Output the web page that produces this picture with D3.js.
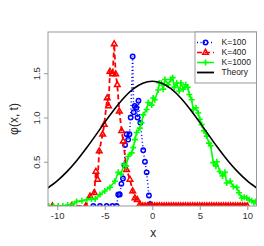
<!DOCTYPE html>
<html><head><meta charset="utf-8">
<script src="https://cdn.jsdelivr.net/npm/d3@7"></script>
<style>body{margin:0;background:#fff}svg{display:block}text{font-family:"Liberation Sans",Arial,sans-serif}</style>
</head><body>
<script>
// ---- data ----
const xTicks = [-10, -5, 0, 5, 10];
const yTicks = [0.5, 1.0, 1.5];
const yTickLabels = ["0.5", "1.0", "1.5"];
const legendLabels = ["K=100", "K=400", "K=1000", "Theory"];

const blueX = [-6.2,-5.5,-4.8,-4.2,-3.75,-3.58,-3.42,-3.25,-3.08,-2.92,-2.86,-2.7,-2.53,-2.4,-2.27,-2.06,-1.95,-1.85,-1.68,-1.55,-1.45,-1.25,-0.95,-0.77,-0.59,-0.35,-0.2];
const blueY = [0,0,0,0,0,0.13,0.13,0.25,0.31,0.46,0.69,0.81,0.75,0.81,1.0,1.69,1.06,1.13,1.11,1.0,1.19,0.94,0.63,0.50,0.38,0.12,0.02];

const redX = [-10.5,-8.5,-7,-6.55,-6.1,-5.93,-5.75,-5.58,-5.22,-5.05,-4.74,-4.6,-4.45,-4.17,-4.0,-3.85,-3.68,-3.47,-3.22,-3.05,-2.7,-2.35,-2.06,-1.82,-1.58,-1.3,
  -1.0,-0.75,-0.5,-0.25,0,0.25,0.5,0.75,1,1.25,1.5,1.75,2,2.25,2.5,2.75,3,3.25,3.5,3.75,4,4.25,4.5,4.75,5,5.25,5.5,5.75,6,6.25,6.5,6.75,7,7.25,7.5,7.75,8,8.25,8.5,8.75,9,9.25,9.5,9.75,10];
const redY = [0,0,0,0.11,0.15,0.39,0.30,0.62,0.81,0.92,1.22,1.13,1.52,1.49,1.83,1.49,1.37,1.07,0.85,0.73,0.41,0.30,0.17,0.09,0.07,0.02,
  0,0,0,0,0,0,0,0,0,0,0,0,0,0,0,0,0,0,0,0,0,0,0,0,0,0,0,0,0,0,0,0,0,0,0,0,0,0,0,0,0,0,0,0,0];

const greenX = [-10.9,-10.4,-9.9,-9.4,-8.9,-8.4,-7.96,-7.4,-6.9,-6.4,-6.0,-5.5,-5.0,-4.45,-3.93,-3.58,-3.3,-2.98,-2.75,-2.53,-2.17,-2.0,-1.82,-1.64,-1.3,-1.12,-0.95,-0.59,-0.42,-0.06,0.1,0.27,0.63,0.74,0.95,1.16,1.34,1.68,1.94,2.15,2.32,2.57,2.84,3.02,3.26,3.52,3.73,3.9,4.15,4.32,4.6,4.84,5.0,5.2,5.44,5.73,5.97,6.15,6.42,6.7,6.8,7.1,7.4,7.65,7.83,8.2,8.53,8.88,9.13,9.41,9.68,9.94,10.2,10.46,10.7,10.9];
const greenY = [0,0,0,0,0.01,0.02,0.05,0.06,0.07,0.08,0.08,0.13,0.17,0.21,0.28,0.38,0.36,0.47,0.45,0.56,0.60,0.66,0.75,0.83,0.88,0.94,1.03,1.09,1.17,1.14,1.22,1.20,1.31,1.39,1.39,1.32,1.43,1.37,1.43,1.45,1.34,1.39,1.30,1.39,1.32,1.37,1.34,1.26,1.20,1.09,1.11,1.05,0.98,0.92,0.85,0.79,0.71,0.68,0.49,0.45,0.50,0.39,0.34,0.38,0.26,0.28,0.22,0.21,0.15,0.09,0.10,0.09,0.07,0.06,0.04,0.05];

const theoryX = [-11,-10,-9,-8,-7,-6,-5,-4,-3,-2,-1,0,1,2,3,4,5,6,7,8,9,10,11];
const theoryY = [0.203,0.284,0.385,0.506,0.643,0.792,0.945,1.091,1.221,1.323,1.388,1.41,1.388,1.323,1.221,1.091,0.945,0.792,0.643,0.506,0.385,0.284,0.203];

// ---- layout ----
const W = 264, H = 246;
const L = 48, R = 256.5, T = 32, B = 206;
const x = d3.scaleLinear().domain([-10.97, 10.97]).range([L, R]);
const y = d3.scaleLinear().domain([0, 1.966]).range([B, T]);

const svg = d3.select("body").append("svg").attr("width", W).attr("height", H);
svg.append("defs").append("clipPath").attr("id","clip")
  .append("rect").attr("x", L).attr("y", T).attr("width", R-L).attr("height", B-T);

const zip = (xs, ys) => xs.map((v,i)=>[v, ys[i]]);
const line = d3.line().x(d=>x(d[0])).y(d=>y(d[1]));
const plot = svg.append("g").attr("clip-path","url(#clip)");

const tri = "M0,-3.2L2.8,1.7L-2.8,1.7Z";
const plus = "M-3,0H3M0,-3V3";

const series = [
  {data: zip(blueX, blueY), color:"#0000ff", dash:"1,2.5", width:1.5, marker:"circle"},
  {data: zip(redX, redY), color:"#ff0000", dash:"5,3", width:1.8, marker:"tri"},
  {data: zip(greenX, greenY), color:"#00ff00", dash:null, width:1.6, marker:"plus"}
];

function drawMarker(g, kind, color){
  if(kind==="circle") g.append("circle").attr("r",2.2).attr("fill","none").attr("stroke",color).attr("stroke-width",1.5);
  else if(kind==="tri") g.append("path").attr("d",tri).attr("fill","none").attr("stroke",color).attr("stroke-width",1.5);
  else g.append("path").attr("d",plus).attr("fill","none").attr("stroke",color).attr("stroke-width",1.6);
}

series.forEach(s=>{
  plot.append("path").datum(s.data).attr("d", line).attr("fill","none")
    .attr("stroke", s.color).attr("stroke-width", s.width)
    .attr("stroke-dasharray", s.dash);
  s.data.forEach(d=>{
    const g = plot.append("g").attr("transform",`translate(${x(d[0])},${y(d[1])})`);
    drawMarker(g, s.marker, s.color);
  });
});

plot.append("path").datum(zip(theoryX, theoryY))
  .attr("d", d3.line().x(d=>x(d[0])).y(d=>y(d[1])).curve(d3.curveNatural))
  .attr("fill","none").attr("stroke","#000").attr("stroke-width",1.6);

// frame
svg.append("rect").attr("x",L).attr("y",T).attr("width",R-L).attr("height",B-T)
  .attr("fill","none").attr("stroke","#999").attr("stroke-width",1);

// axes
const xAxis = d3.axisBottom(x).tickValues(xTicks).tickSize(4).tickPadding(2).tickFormat(d=>String(d));
const gx = svg.append("g").attr("transform",`translate(0,${B})`).call(xAxis);
gx.select(".domain").remove();
gx.selectAll("line").attr("stroke","#999");
gx.selectAll("text").attr("font-size",9.5).attr("fill","#333");

const yAxis = d3.axisLeft(y).tickValues(yTicks).tickSize(4).tickFormat((d,i)=>yTickLabels[i]);
const gy = svg.append("g").attr("transform",`translate(${L},0)`).call(yAxis);
gy.select(".domain").remove();
gy.selectAll("line").attr("stroke","#999");
gy.selectAll("text").attr("font-size",9.5).attr("fill","#333")
  .attr("text-anchor","middle").attr("dy",null).attr("x",0).attr("y",0)
  .attr("transform","translate(-8,0) rotate(-90)");

svg.append("text").attr("x",(L+R)/2+1).attr("y",237).attr("text-anchor","middle")
  .attr("font-size",12).attr("fill","#222").text("x");
svg.append("text").attr("transform",`translate(18,${(T+B)/2}) rotate(-90)`)
  .attr("text-anchor","middle").attr("font-size",12).attr("fill","#222").text("\u03c6(x, t)");

// legend
const lg = svg.append("g");
lg.append("rect").attr("x",195).attr("y",T).attr("width",R-195).attr("height",51)
  .attr("fill","#fff").attr("stroke","#999").attr("stroke-width",1);
const legendStyles = [
  {color:"#0000ff", dash:"1,2.5", marker:"circle"},
  {color:"#ff0000", dash:"5,3", marker:"tri"},
  {color:"#00ff00", dash:null, marker:"plus"},
  {color:"#000", dash:null, marker:null}
];
legendLabels.forEach((lab,i)=>{
  const yy = 42.5 + i*10;
  const st = legendStyles[i];
  lg.append("line").attr("x1",197).attr("x2",214).attr("y1",yy).attr("y2",yy)
    .attr("stroke",st.color).attr("stroke-width",st.marker? 1.5:1.8).attr("stroke-dasharray",st.dash);
  if(st.marker){ const g = lg.append("g").attr("transform",`translate(205.5,${yy})`); drawMarker(g, st.marker, st.color); }
  lg.append("text").attr("x",221.5).attr("y",yy).attr("dy","0.35em").attr("font-size",8.5)
    .attr("fill","#222").text(lab);
});
</script>
</body></html>
